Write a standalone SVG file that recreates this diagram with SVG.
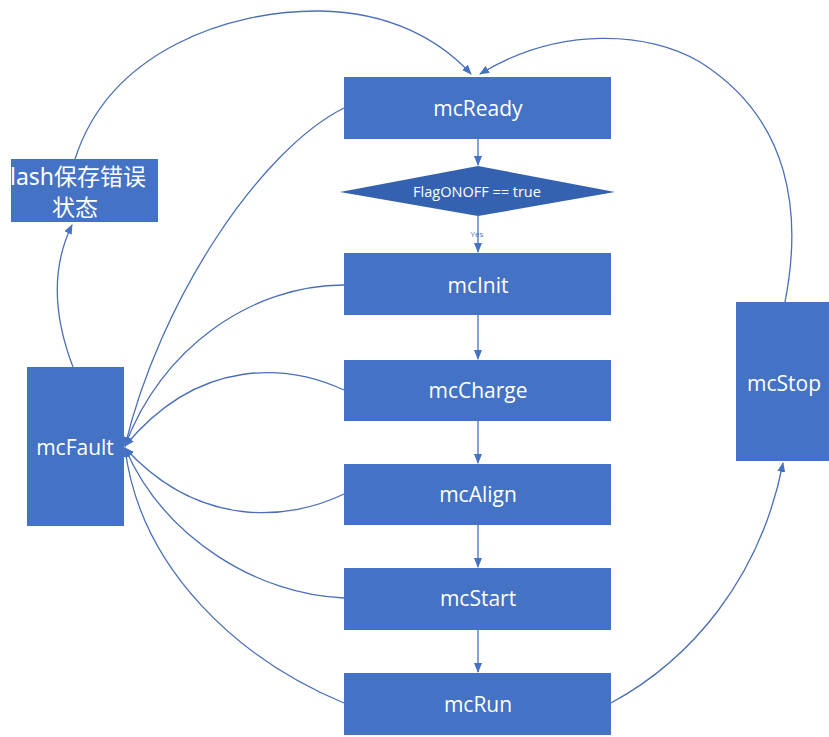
<svg xmlns="http://www.w3.org/2000/svg" width="829" height="737" viewBox="0 0 829 737">
<style>
.box{fill:#4472C4;}
.lbl{fill:#ffffff;font-family:"Segoe UI","Open Sans","Noto Sans",sans-serif;font-size:21px;text-anchor:middle;dominant-baseline:central;}
.cjk{fill:#ffffff;font-family:"Noto Sans","Noto Sans CJK SC",sans-serif;font-size:23px;}
.edge{fill:none;stroke:#4A6FB8;stroke-width:1.3;marker-end:url(#arr);}
</style>
<defs>
<marker id="arr" markerUnits="userSpaceOnUse" markerWidth="10" markerHeight="8" refX="9" refY="4" orient="auto">
<path d="M0,0 L10,4 L0,8 Z" fill="#4472C4"/>
</marker>
</defs>
<rect width="829" height="737" fill="#ffffff"/>
<g id="connectors">
<path class="edge" d="M478,139 L478,165"/>
<path class="edge" d="M478,216 L478,252"/>
<path class="edge" d="M478,315 L478,359"/>
<path class="edge" d="M478,421 L478,463"/>
<path class="edge" d="M478,525 L478,567"/>
<path class="edge" d="M478,630 L478,672"/>
<path class="edge" d="M611,703 C690,660 760,580 783,463"/>
<path class="edge" d="M785,302 C802,215 792,120 700,62 C650,32 560,25 480,74"/>
<path class="edge" d="M75,159 C110,50 230,10 320,11 C390,12 440,40 471,74"/>
<path class="edge" d="M73,367 C55,320 50,270 72,225"/>
<path class="edge" d="M344,108 C260,150 160,300 125,446"/>
<path class="edge" d="M344,285 C250,285 160,350 125,446"/>
<path class="edge" d="M344,390 C290,365 200,355 125,446"/>
<path class="edge" d="M344,494 C290,520 200,530 125,448"/>
<path class="edge" d="M344,598 C260,595 165,540 125,448"/>
<path class="edge" d="M344,703 C240,660 140,570 125,448"/>
<text x="477" y="233" font-family="'Open Sans',sans-serif" font-size="8" fill="#4472C4" text-anchor="middle" dominant-baseline="central">Yes</text>
</g>
<g id="mcReady"><rect class="box" x="344" y="77" width="267" height="62"/><text class="lbl" x="478" y="108">mcReady</text></g>
<g id="decision"><polygon points="340,192 478,166 615,192 478,216" fill="#3562B0"/><text x="477" y="191" fill="#ffffff" font-family="'Segoe UI','Open Sans',sans-serif" font-size="14.5" text-anchor="middle" dominant-baseline="central">FlagONOFF == true</text></g>
<g id="mcInit"><rect class="box" x="344" y="253" width="267" height="62"/><text class="lbl" x="478" y="285">mcInit</text></g>
<g id="mcCharge"><rect class="box" x="344" y="360" width="267" height="61"/><text class="lbl" x="478" y="390">mcCharge</text></g>
<g id="mcAlign"><rect class="box" x="344" y="464" width="267" height="61"/><text class="lbl" x="478" y="494">mcAlign</text></g>
<g id="mcStart"><rect class="box" x="344" y="568" width="267" height="62"/><text class="lbl" x="478" y="598">mcStart</text></g>
<g id="mcRun"><rect class="box" x="344" y="673" width="267" height="62"/><text class="lbl" x="478" y="704">mcRun</text></g>
<g id="mcFault"><rect class="box" x="27" y="367" width="97" height="159"/><text class="lbl" x="75" y="447">mcFault</text></g>
<g id="mcStop"><rect class="box" x="736" y="302" width="96" height="159"/><text class="lbl" x="784" y="383">mcStop</text></g>
<g id="flash"><rect class="box" x="11" y="159" width="147" height="63"/><text class="cjk" x="10" y="185">lash保存错误</text><text class="cjk" x="75" y="216" text-anchor="middle">状态</text></g>
</svg>
